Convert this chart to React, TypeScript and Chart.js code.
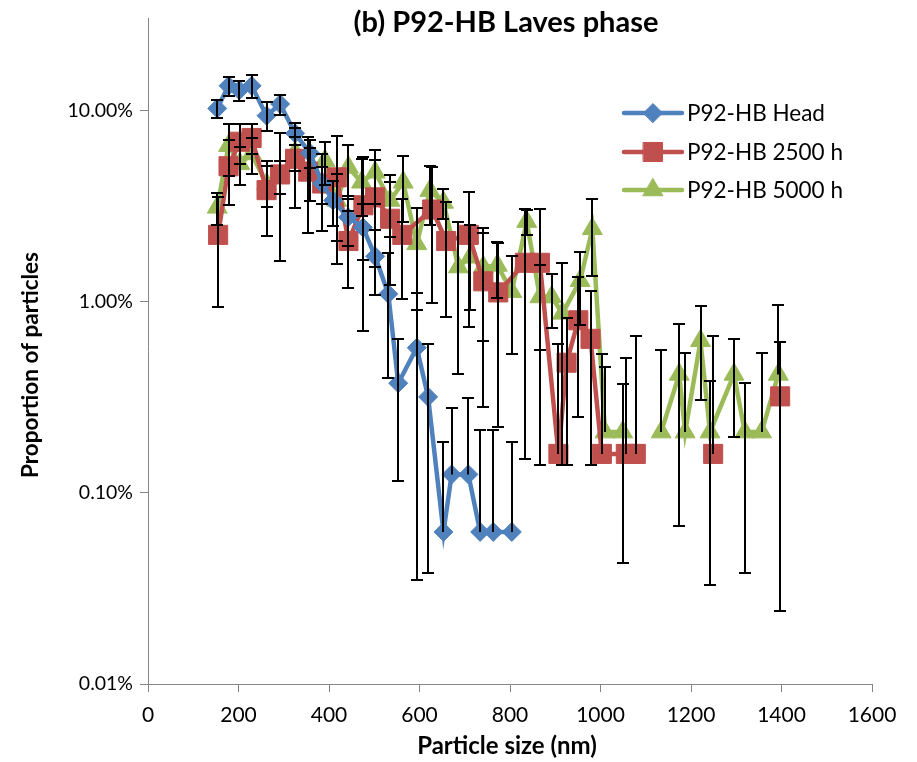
import { useEffect, useRef } from 'react';
import { Chart, registerables } from 'chart.js';

Chart.register(...registerables);

const FONT = 'Lato, "Open Sans", sans-serif';

// Particle size (nm) and proportion of particles (%) with error half-widths (%)
const headSize = [153, 178, 202, 229, 262, 292, 325, 358, 385, 409, 442, 475, 502, 531, 553, 594, 619, 653, 671, 708, 734, 763, 804];
const headProp = [10.28, 13.5, 12.8, 13.5, 9.42, 10.84, 7.61, 6.0, 4.15, 3.39, 2.77, 2.45, 1.73, 1.1, 0.375, 0.575, 0.318, 0.0625, 0.125, 0.125, 0.0625, 0.0625, 0.0625];
const headErr = [1.1, 1.6, 1.5, 1.87, 1.63, 1.3, 1.0, 1.0, 0.9, 0.9, 0.8, 0.8, 0.65, 0.7, 0.26, 0.54, 0.28, 0.122, 0.153, 0.19, 0.15, 0.15, 0.122];

const h2500Size = [155, 178, 203, 229, 262, 292, 325, 354, 385, 417, 443, 476, 502, 535, 562, 628, 659, 709, 741, 774, 833, 866, 907, 925, 951, 978, 1003, 1056, 1078, 1160, 1249, 1320, 1397];
const h2500Prop = [2.24, 5.12, 6.88, 7.2, 3.84, 4.64, 5.6, 4.8, 4.16, 4.48, 2.08, 3.2, 3.52, 2.72, 2.24, 3.04, 2.08, 2.24, 1.28, 1.12, 1.6, 1.6, 0.16, 0.48, 0.8, 0.64, 0.16, 0.16, 0.16, null, 0.16, null, 0.32];
const h2500Err = [1.3, 1.9, 1.6, 1.3, 1.64, 3.0, 2.5, 2.5, 1.8, 2.9, 0.9, 2.5, 2.0, 1.5, 1.2, 2.05, 1.25, 1.5, 1.0, 0.9, 1.45, 1.46, 0.44, 0.34, 0.55, 0.5, 0.37, 0.35, 0.5, null, 0.5, null, 0.296];

const h5000Size = [153, 178, 203, 229, 262, 292, 325, 358, 391, 417, 443, 472, 502, 535, 564, 594, 623, 653, 686, 712, 741, 772, 804, 837, 866, 892, 916, 955, 982, 1010, 1049, 1090, 1134, 1174, 1187, 1221, 1242, 1295, 1319, 1356, 1393];
const h5000Prop = [3.12, 6.56, 5.27, 5.94, 4.14, 4.57, 6.05, 4.86, 5.48, 3.39, 5.05, 4.22, 4.76, 3.39, 4.22, 2.01, 3.82, 3.31, 1.52, 1.71, 1.52, 1.55, 1.13, 2.63, 1.06, 1.06, 0.87, 1.29, 2.41, 0.208, 0.208, null, 0.208, 0.417, 0.208, 0.625, 0.208, 0.417, 0.208, 0.208, 0.417];
const h5000Err = [0.6, 2.0, 1.2, 1.3, 1.0, 0.9, 1.2, 1.5, 1.4, 1.3, 1.6, 1.4, 1.5, 1.2, 1.6, 1.1, 1.3, 0.6, 1.1, 0.8, 0.9, 0.5, 0.6, 0.4, 0.5, 0.33, 0.73, 0.53, 1.05, 0.25, 0.165, null, 0.35, 0.35, 0.33, 0.32, 0.175, 0.22, 0.17, 0.33, 0.54];

const seriesNames = ['P92-HB Head', 'P92-HB 2500 h', 'P92-HB 5000 h'];
const seriesColors = ['#4F81BD', '#C0504D', '#9BBB59'];
const seriesStyles = ['rectRot', 'rect', 'triangle'];
const seriesRadii = [9.5, 13.5, 11.5];

const yTickValues = [0.01, 0.1, 1, 10];
const chartTitle = '(b) P92-HB Laves phase';
const xTitle = 'Particle size (nm)';
const yTitle = 'Proportion of particles';

const toPoints = (sizes: number[], props: (number | null)[]) =>
  sizes.map((x, i) => ({ x, y: props[i] }));

function markerPath(ctx: CanvasRenderingContext2D, style: string, x: number, y: number, r: number) {
  ctx.beginPath();
  if (style === 'rectRot') {
    ctx.moveTo(x - r, y);
    ctx.lineTo(x, y - r);
    ctx.lineTo(x + r, y);
    ctx.lineTo(x, y + r);
  } else if (style === 'rect') {
    const s = Math.SQRT1_2 * r;
    ctx.rect(x - s, y - s, 2 * s, 2 * s);
  } else {
    const a = (2 * Math.PI) / 3;
    ctx.moveTo(x, y - r);
    ctx.lineTo(x + Math.sin(a) * r, y - Math.cos(a) * r);
    ctx.lineTo(x + Math.sin(2 * a) * r, y - Math.cos(2 * a) * r);
  }
  ctx.closePath();
}

const errorBarPlugin = {
  id: 'errorBars',
  afterDatasetsDraw(chart: any) {
    const { ctx, chartArea, scales } = chart;
    const y = scales.y;
    ctx.save();
    ctx.beginPath();
    ctx.rect(chartArea.left, chartArea.top - 2, chartArea.right - chartArea.left, chartArea.bottom - chartArea.top + 2);
    ctx.clip();
    ctx.strokeStyle = '#000000';
    ctx.lineWidth = 2;
    chart.data.datasets.forEach((ds: any, i: number) => {
      const meta = chart.getDatasetMeta(i);
      meta.data.forEach((pt: any, j: number) => {
        const v = ds.data[j].y;
        const e = ds.errors[j];
        if (v == null || e == null) return;
        const cx = Math.round(pt.x);
        const cy = y.getPixelForValue(v);
        const top = Math.round(y.getPixelForValue(v + e));
        ctx.beginPath();
        ctx.moveTo(cx, cy);
        ctx.lineTo(cx, top);
        ctx.moveTo(cx - 6, top);
        ctx.lineTo(cx + 6, top);
        if (v - e > 0) {
          const bot = Math.round(y.getPixelForValue(v - e));
          ctx.moveTo(cx, cy);
          ctx.lineTo(cx, bot);
          ctx.moveTo(cx - 6, bot);
          ctx.lineTo(cx + 6, bot);
        }
        ctx.stroke();
      });
    });
    ctx.restore();
  },
};

const textPlugin = {
  id: 'labelsAndLegend',
  afterDraw(chart: any) {
    const { ctx } = chart;
    ctx.save();
    ctx.fillStyle = '#000000';
    ctx.textAlign = 'center';
    ctx.textBaseline = 'middle';
    ctx.font = `bold 29px ${FONT}`;
    ctx.fillText(chartTitle, 506, 23);

    ctx.font = `bold 24px ${FONT}`;
    ctx.fillText(xTitle, 507, 746);

    ctx.save();
    ctx.translate(31, 365);
    ctx.rotate(-Math.PI / 2);
    ctx.font = `bold 22.5px ${FONT}`;
    ctx.fillText(yTitle, 0, 0);
    ctx.restore();

    // legend
    const rows = [113, 152, 190];
    seriesNames.forEach((name, i) => {
      const ly = rows[i];
      ctx.strokeStyle = seriesColors[i];
      ctx.lineWidth = 4.5;
      ctx.lineCap = 'round';
      ctx.beginPath();
      ctx.moveTo(624, ly);
      ctx.lineTo(682, ly);
      ctx.stroke();
      ctx.fillStyle = seriesColors[i];
      ctx.lineWidth = 1;
      markerPath(ctx, seriesStyles[i], 653, ly, seriesRadii[i]);
      ctx.fill();
      ctx.stroke();
      ctx.fillStyle = '#000000';
      ctx.textAlign = 'left';
      ctx.font = `22.5px ${FONT}`;
      ctx.fillText(name, 687, ly + 1);
    });
    ctx.restore();
  },
};

export default function App() {
  const canvasRef = useRef<HTMLCanvasElement | null>(null);

  useEffect(() => {
    if (!canvasRef.current) return;
    const sets = [
      { sizes: headSize, props: headProp, errs: headErr },
      { sizes: h2500Size, props: h2500Prop, errs: h2500Err },
      { sizes: h5000Size, props: h5000Prop, errs: h5000Err },
    ];
    const chart = new Chart(canvasRef.current, {
      type: 'line',
      data: {
        datasets: sets.map((s, i) => ({
          label: seriesNames[i],
          data: toPoints(s.sizes, s.props),
          errors: s.errs,
          borderColor: seriesColors[i],
          backgroundColor: seriesColors[i],
          borderWidth: 4.5,
          tension: 0,
          spanGaps: false,
          pointStyle: seriesStyles[i],
          pointRadius: seriesRadii[i],
          pointHoverRadius: seriesRadii[i],
          pointBorderWidth: 1,
          pointBackgroundColor: seriesColors[i],
          pointBorderColor: seriesColors[i],
        })) as any,
      },
      options: {
        animation: false,
        responsive: true,
        maintainAspectRatio: false,
        layout: { padding: { top: 18, right: 45, left: 0, bottom: 0 } },
        plugins: {
          legend: { display: false },
          title: { display: false },
          tooltip: { enabled: false },
        },
        scales: {
          x: {
            type: 'linear',
            min: 0,
            max: 1600,
            ticks: {
              stepSize: 200,
              color: '#000000',
              font: { family: FONT, size: 21 },
              padding: 11,
              maxRotation: 0,
              callback: (v: any) => String(v),
            },
            grid: { drawOnChartArea: false, drawTicks: true, tickLength: 8, color: '#868686' },
            border: { color: '#868686', width: 1 },
            afterFit: (scale: any) => {
              scale.height = 78;
            },
          },
          y: {
            type: 'logarithmic',
            min: 0.01,
            max: 30.3,
            bounds: 'data',
            afterBuildTicks: (scale: any) => {
              scale.ticks = yTickValues.map((v) => ({ value: v }));
            },
            ticks: {
              color: '#000000',
              font: { family: FONT, size: 19.5 },
              padding: 7,
              callback: (v: any) => Number(v).toFixed(2) + '%',
            },
            grid: { drawOnChartArea: false, drawTicks: true, tickLength: 8, color: '#868686' },
            border: { color: '#868686', width: 1 },
            afterFit: (scale: any) => {
              scale.width = 148;
            },
          },
        },
      },
      plugins: [errorBarPlugin, textPlugin],
    });
    return () => chart.destroy();
  }, []);

  return (
    <div style={{ position: 'fixed', left: 0, top: 0, width: 917, height: 762, background: '#ffffff' }}>
      <canvas ref={canvasRef} />
    </div>
  );
}
